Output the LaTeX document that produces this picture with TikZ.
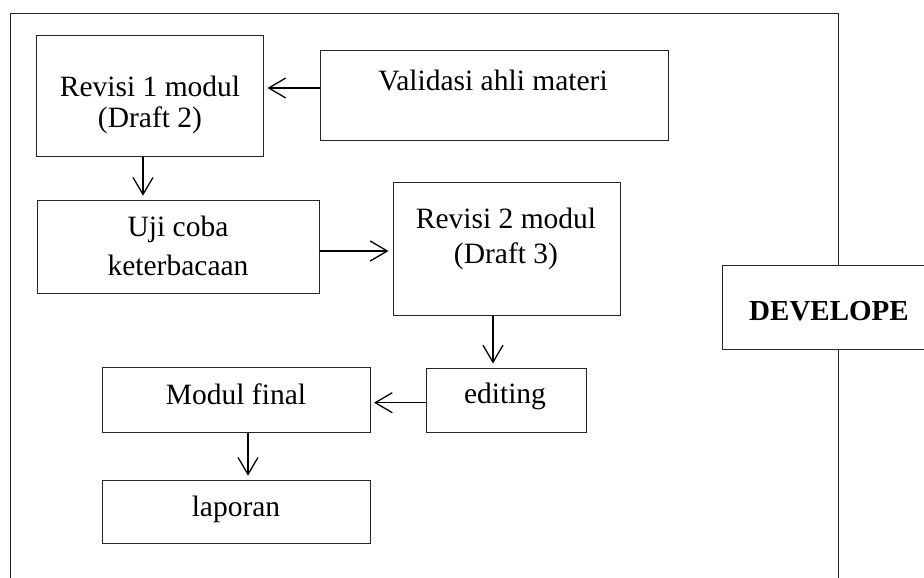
\documentclass[tikz,border=0pt]{standalone}
\usepackage{fontspec}
\setmainfont{Liberation Serif}
\usetikzlibrary{arrows.meta}
\begin{document}
\begin{tikzpicture}[x=1pt,y=-1pt,
  box/.style={draw=black!85, line width=1pt, fill=white, inner sep=0pt},
  txt/.style={anchor=base, inner sep=0pt, font=\fontsize{29.5}{29.5}\selectfont},
  arr/.style={draw=black, line width=1.3pt, -{Straight Barb[length=17pt,width=20pt,line width=1.3pt]}}
]
\useasboundingbox (0,0) rectangle (924,578);
\clip (0,0) rectangle (924,578);
% outer frame
\draw[black!85, line width=1pt] (10.5,580) -- (10.5,13.5) -- (838,13.5) -- (838,580);
% DEVELOPE box
\node[box, minimum width=214pt, minimum height=83.5pt] (dev) at (829,307.25) {};
\node[txt, font=\fontsize{29}{29}\selectfont\bfseries] (devt) at (829,320) {DEVELOPE};
% boxes
\node[box, minimum width=227pt, minimum height=120pt] (r1) at (150,96) {};
\node[txt] (r1a) at (150,96) {Revisi 1 modul};
\node[txt] (r1b) at (150,128) {(Draft 2)};
\node[box, minimum width=348pt, minimum height=89pt] (val) at (494,95.5) {};
\node[txt] (valt) at (493,90) {Validasi ahli materi};
\node[box, minimum width=282pt, minimum height=92.3pt] (uji) at (178,246.85) {};
\node[txt] (ujia) at (178,236.7) {Uji coba};
\node[txt] (ujib) at (178,275) {keterbacaan};
\node[box, minimum width=227.7pt, minimum height=133pt] (r2) at (506.85,248.5) {};
\node[txt] (r2a) at (506,228) {Revisi 2 modul};
\node[txt] (r2b) at (506,263) {(Draft 3)};
\node[box, minimum width=160.5pt, minimum height=64pt] (ed) at (506.25,400) {};
\node[txt] (edt) at (505,403) {editing};
\node[box, minimum width=268pt, minimum height=65pt] (mf) at (236,399.5) {};
\node[txt] (mft) at (236,404) {Modul final};
\node[box, minimum width=268pt, minimum height=62.3pt] (lap) at (236,511.85) {};
\node[txt] (lapt) at (236,516.7) {laporan};
% helper coordinates
\coordinate (ya) at (0,88);
\coordinate (yb) at (0,251);
\coordinate (yc) at (0,402.7);
\coordinate (xa) at (143,0);
\coordinate (xb) at (493,0);
\coordinate (xc) at (248,0);
% connectors
\draw[arr, shorten >=3.5pt] (val.west |- ya) -- (r1.east |- ya);
\draw[arr, shorten >=4.5pt] (r1.south -| xa) -- (uji.north -| xa);
\draw[arr, shorten >=4pt] (uji.east |- yb) -- (r2.west |- yb);
\draw[arr, shorten >=4pt] (r2.south -| xb) -- (ed.north -| xb);
\draw[arr, shorten >=3.5pt] (ed.west |- yc) -- (mf.east |- yc);
\draw[arr, shorten >=4.5pt] (mf.south -| xc) -- (lap.north -| xc);
\end{tikzpicture}
\end{document}
